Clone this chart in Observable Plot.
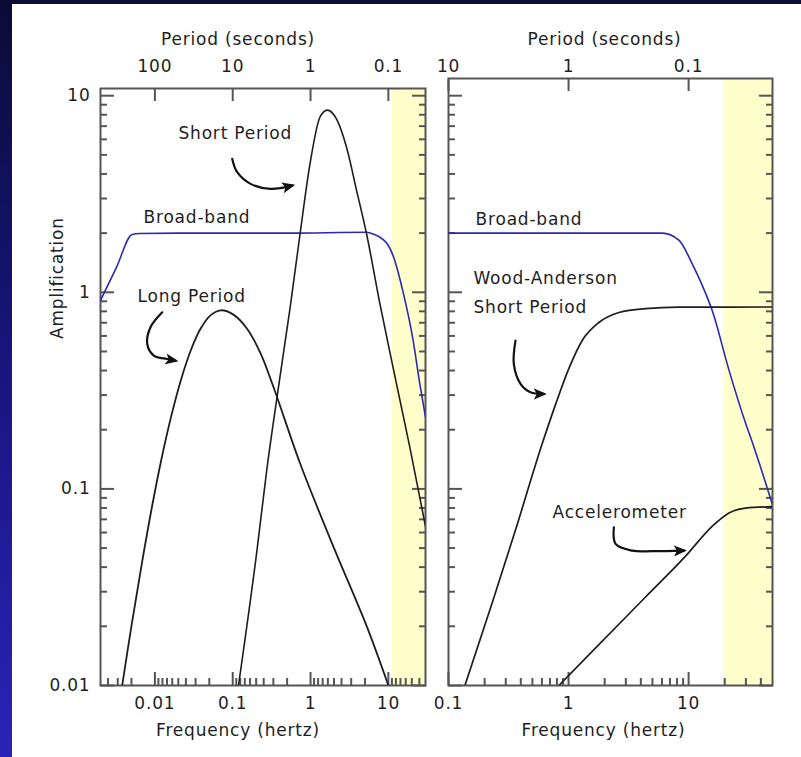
<!DOCTYPE html>
<html>
<head>
<meta charset="utf-8">
<script src="https://cdn.jsdelivr.net/npm/d3@7"></script>
<script src="https://cdn.jsdelivr.net/npm/@observablehq/plot@0.6"></script>
<style>
  html, body { margin: 0; padding: 0; }
  #wrap { position: relative; width: 801px; height: 757px; overflow: hidden;
          background: linear-gradient(to bottom, #0b0b36 0%, #17147a 45%, #2a23b8 100%); }
  #paper { position: absolute; left: 12px; top: 4px; right: 0; bottom: 0; background: #fff; }
  #left { position: absolute; left: 12px; top: 4px; width: 424px; height: 753px; }
  #right { position: absolute; left: 436px; top: 4px; width: 365px; height: 753px; }
</style>
</head>
<body>
<div id="wrap">
  <div id="paper"></div>
  <div id="left"></div>
  <div id="right"></div>
</div>
<script>
// ---------- data (frequency in Hz, amplification) ----------
const leftBroadBand = [[0.002,0.91],[0.00321,1.34],[0.0051,1.97],[0.0064,1.99],[0.02,2.0],[0.5,2.0],[5.25,2.02],[6.4,1.98],[8.5,1.86],[9.9,1.74],[11.4,1.55],[15.3,1.02],[20.8,0.57],[25.3,0.344],[30,0.232]];
const longPeriod = [[0.0038,0.01],[0.00508,0.0209],[0.00681,0.0419],[0.0091,0.0797],[0.01217,0.1424],[0.01631,0.2365],[0.0218,0.3627],[0.02912,0.5105],[0.03892,0.656],[0.05218,0.7656],[0.0697,0.81],[0.102,0.77],[0.152,0.655],[0.225,0.495],[0.333,0.331],[0.733,0.135],[1.96,0.051],[5.25,0.0201],[10,0.01]];
const shortPeriod = [[0.1186,0.01],[0.204,0.048],[0.274,0.125],[0.4,0.36],[0.55,0.85],[0.733,1.98],[0.984,4.5],[1.32,7.77],[1.64,8.45],[2.16,7.6],[2.9,5.47],[3.91,3.29],[5.25,1.98],[7.78,0.876],[11.5,0.414],[18.8,0.164],[30,0.0645]];

const rightBroadBand = [[0.1,2.0],[1,2.0],[6.04,2.0],[8.3,1.84],[10.7,1.40],[13.9,0.985],[15.7,0.81],[21.7,0.402],[29.9,0.215],[34,0.172],[50,0.083]];
const woodAnderson = [[0.137,0.01],[0.231,0.0263],[0.362,0.0619],[0.604,0.170],[0.78,0.269],[1.007,0.410],[1.3,0.569],[1.79,0.702],[2.63,0.789],[4.38,0.826],[8.3,0.84],[50,0.842]];
const accelerometer = [[0.83,0.01],[1.91,0.0168],[4.38,0.0282],[9.44,0.0455],[15.7,0.0645],[21.7,0.0755],[29.9,0.0798],[50,0.0812]];

// annotation labels: [frequency, amplification, text]
const leftNotes = [[0.0201,6.42,"Short Period"],[0.00714,2.40,"Broad-band"],[0.00598,0.951,"Long Period"]];
const rightNotes = [[0.168,2.34,"Broad-band"],[0.1615,1.174,"Wood-Anderson"],[0.1615,0.836,"Short Period"],[0.7356,0.0757,"Accelerometer"]];
// annotation arrows (paths in data space)
const shortPeriodArrow = [[0.0986,4.77],[0.1143,4.08],[0.1694,3.56],[0.306,3.36],[0.582,3.49]];
const longPeriodArrow = [[0.01242,0.791],[0.00878,0.664],[0.00797,0.546],[0.00968,0.477],[0.01439,0.458],[0.01841,0.449]];
const woodAndersonArrow = [[0.3615,0.568],[0.35,0.432],[0.398,0.342],[0.482,0.310],[0.622,0.304]];
const accelerometerArrow = [[2.385,0.0638],[2.465,0.0525],[3.393,0.0485],[4.985,0.0482],[9.14,0.0485]];

// shaded bands (Hz)
const leftBand = [11.3, 30];
const rightBand = [19.6, 50];

// domains
const leftFreqDomain = [0.002, 30];
const rightFreqDomain = [0.1, 50];
const leftAmpDomain = [0.01, 10.88];
const rightAmpDomain = [0.01, 12.23];

// ticks
const ampMajor = [0.01, 0.1, 1, 10];
const ampMajorLabels = ["0.01", "0.1", "1", "10"];
const ampMinor = [0.02,0.03,0.04,0.05,0.06,0.07,0.08,0.09,0.2,0.3,0.4,0.5,0.6,0.7,0.8,0.9,2,3,4,5,6,7,8,9];
const leftFreqMajor = [0.01, 0.1, 1, 10];
const leftFreqLabels = ["0.01", "0.1", "1", "10"];
const leftFreqMinor = [0.005,0.00333,0.0025,0.05,0.0333,0.025,0.02,0.0167,0.0143,0.0125,0.0111,0.5,0.333,0.25,0.2,0.167,0.143,0.125,0.111,5,3.33,2.5,2,1.67,1.43,1.25,1.11,25,20,16.7,14.3,12.5,11.1];
const leftPeriodTicks = [0.01, 0.1, 1, 10];
const leftPeriodLabels = ["100", "10", "1", "0.1"];
const rightFreqMajor = [0.1, 1, 10];
const rightFreqLabels = ["0.1", "1", "10"];
const rightFreqMinor = [0.2,0.3,0.4,0.5,0.6,0.7,0.8,0.9,2,3,4,5,6,7,8,9,20,30,40];
const rightPeriodTicks = [0.1, 1, 10];
const rightPeriodLabels = ["10", "1", "0.1"];

const periodTitle = "Period (seconds)";
const freqTitle = "Frequency (hertz)";
const ampTitle = "Amplification";

// ---------- styling ----------
const INK = "#1e1e1e";
const BLUE = "#2a2ab4";
const FRAME = "#555";
const YELLOW = "#ffffcc";

function headMarker() {
  const ns = "http://www.w3.org/2000/svg";
  const m = document.createElementNS(ns, "marker");
  m.setAttribute("viewBox", "-7 -6 13 12");
  m.setAttribute("markerWidth", 13);
  m.setAttribute("markerHeight", 12);
  m.setAttribute("markerUnits", "userSpaceOnUse");
  m.setAttribute("orient", "auto");
  m.setAttribute("refX", 3);
  m.setAttribute("refY", 0);
  m.setAttribute("fill", "#111");
  m.setAttribute("stroke", "none");
  const p = document.createElementNS(ns, "path");
  p.setAttribute("d", "M-7,-5.5L6,0L-7,5.5L-4,0Z");
  m.appendChild(p);
  return m;
}

const labelMap = (vals, labels) => (d) => labels[vals.findIndex((v) => Math.abs(v - d) / v < 1e-6)] ?? "";
const tk = {stroke: FRAME, strokeWidth: 2, fill: "none", label: null};

function yTicks(anchor) {
  return [
    Plot.axisY({anchor, ticks: ampMajor, tickSize: -14, ...tk}),
    Plot.axisY({anchor, ticks: ampMinor, tickSize: -7, ...tk})
  ];
}

function line(data, stroke, w, curve = "monotone-x") {
  return Plot.line(data, {x: (d) => d[0], y: (d) => d[1], stroke, strokeWidth: w, curve, clip: true});
}
function arrow(data) {
  return Plot.line(data, {x: (d) => d[0], y: (d) => d[1], stroke: "#111", strokeWidth: 2.2, curve: "catmull-rom", markerEnd: headMarker});
}
function notes(data) {
  return Plot.text(data, {x: (d) => d[0], y: (d) => d[1], text: (d) => d[2], textAnchor: "start", lineAnchor: "middle", fill: INK});
}

const baseStyle = {fontFamily: "'DejaVu Sans', sans-serif", fontSize: "17px", letterSpacing: "0.8px", background: "transparent", color: INK, overflow: "visible"};

const left = Plot.plot({
  width: 424, height: 753,
  marginLeft: 88, marginRight: 11, marginTop: 84, marginBottom: 72,
  style: baseStyle,
  x: {type: "log", domain: leftFreqDomain, axis: null},
  y: {type: "log", domain: leftAmpDomain, axis: null},
  marks: [
    Plot.rect([leftBand], {x1: (d) => d[0], x2: (d) => d[1], fill: YELLOW}),
    ...yTicks("left"),
    ...yTicks("right"),
    Plot.axisY({anchor: "left", ticks: ampMajor, tickSize: 0, tickPadding: 10, tickFormat: labelMap(ampMajor, ampMajorLabels), label: null, fill: INK}),
    Plot.axisX({anchor: "bottom", ticks: leftFreqMajor, tickSize: -13, ...tk}),
    Plot.axisX({anchor: "bottom", ticks: leftFreqMinor, tickSize: -7, ...tk}),
    Plot.axisX({anchor: "bottom", ticks: leftFreqMajor, tickSize: 0, tickPadding: 11, tickFormat: labelMap(leftFreqMajor, leftFreqLabels), label: null, fill: INK}),
    Plot.axisX({anchor: "top", ticks: leftPeriodTicks, tickSize: -12, ...tk}),
    Plot.axisX({anchor: "top", ticks: leftPeriodTicks, tickSize: 0, tickPadding: 17, tickFormat: labelMap(leftPeriodTicks, leftPeriodLabels), label: null, fill: INK}),
    Plot.frame({stroke: FRAME, strokeWidth: 2}),
    line(leftBroadBand, BLUE, 1.6),
    line(longPeriod, INK, 1.8, "catmull-rom"),
    line(shortPeriod, INK, 1.6),
    notes(leftNotes),
    arrow(shortPeriodArrow),
    arrow(longPeriodArrow),
    Plot.text([periodTitle], {frameAnchor: "top", dy: -56, dx: -25, fill: INK}),
    Plot.text([freqTitle], {frameAnchor: "bottom", dy: 50, dx: -25, fill: INK}),
    Plot.text([ampTitle], {frameAnchor: "left", dx: -43, dy: -48, rotate: -90, fill: INK})
  ]
});

const right = Plot.plot({
  width: 365, height: 753,
  marginLeft: 12, marginRight: 29, marginTop: 74, marginBottom: 72,
  style: baseStyle,
  x: {type: "log", domain: rightFreqDomain, axis: null},
  y: {type: "log", domain: rightAmpDomain, axis: null},
  marks: [
    Plot.rect([rightBand], {x1: (d) => d[0], x2: (d) => d[1], fill: YELLOW}),
    ...yTicks("left"),
    ...yTicks("right"),
    Plot.axisX({anchor: "bottom", ticks: rightFreqMajor, tickSize: -13, ...tk}),
    Plot.axisX({anchor: "bottom", ticks: rightFreqMinor, tickSize: -7, ...tk}),
    Plot.axisX({anchor: "bottom", ticks: rightFreqMajor, tickSize: 0, tickPadding: 11, tickFormat: labelMap(rightFreqMajor, rightFreqLabels), label: null, fill: INK}),
    Plot.axisX({anchor: "top", ticks: rightPeriodTicks, tickSize: -12, ...tk}),
    Plot.axisX({anchor: "top", ticks: rightPeriodTicks, tickSize: 0, tickPadding: 7, tickFormat: labelMap(rightPeriodTicks, rightPeriodLabels), label: null, fill: INK}),
    Plot.frame({stroke: FRAME, strokeWidth: 2}),
    line(rightBroadBand, BLUE, 1.6),
    line(woodAnderson, INK, 1.7),
    line(accelerometer, INK, 1.7),
    notes(rightNotes),
    arrow(woodAndersonArrow),
    arrow(accelerometerArrow),
    Plot.text([periodTitle], {frameAnchor: "top", dy: -46, dx: -6, fill: INK}),
    Plot.text([freqTitle], {frameAnchor: "bottom", dy: 50, dx: -7, fill: INK})
  ]
});

document.getElementById("left").appendChild(left);
document.getElementById("right").appendChild(right);
</script>
</body>
</html>
